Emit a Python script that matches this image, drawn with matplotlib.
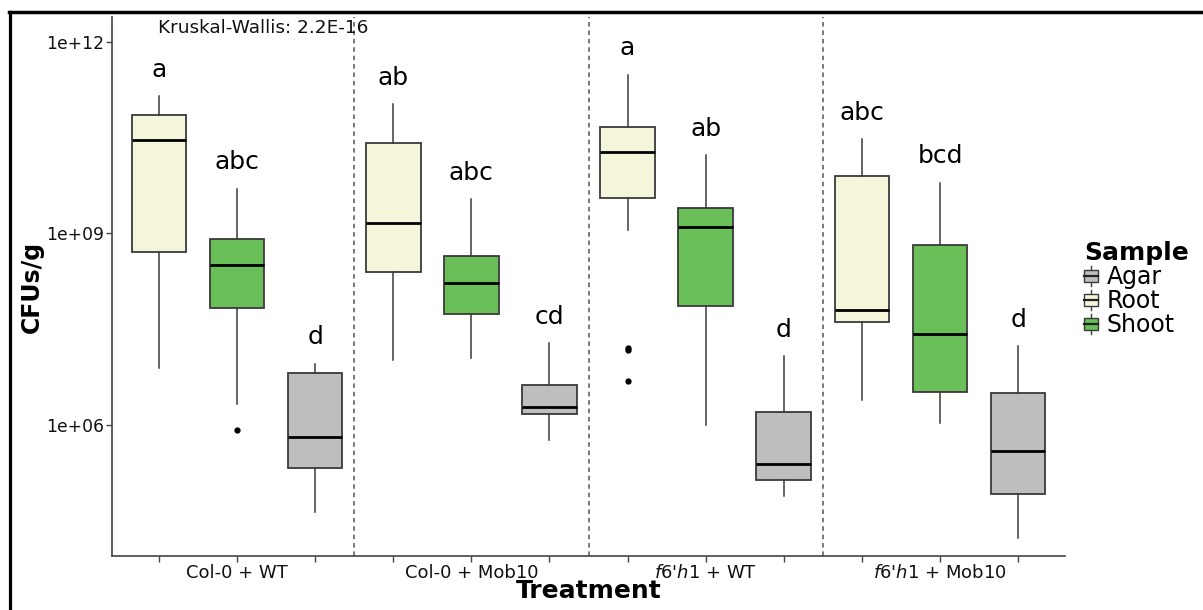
import matplotlib
matplotlib.use("Agg")
import matplotlib.pyplot as plt
from matplotlib.legend_handler import HandlerBase
from matplotlib.patches import Rectangle, Patch
from matplotlib.lines import Line2D
from matplotlib.ticker import NullLocator

plt.rcParams['font.family'] = ['DejaVu Sans']
plt.rcParams['mathtext.fontset'] = 'custom'
plt.rcParams['mathtext.it'] = 'DejaVu Sans:italic'
plt.rcParams['mathtext.rm'] = 'DejaVu Sans'

# ---------------- data ----------------
treatments = ["Col-0 + WT", "Col-0 + Mob10", "f6'h1 + WT", "f6'h1 + Mob10"]
box_order = ["Root", "Shoot", "Agar"]
legend_order = ["Agar", "Root", "Shoot"]

# five-number summaries per treatment: [whisker low, Q1, median, Q3, whisker high]
root_stats = [
    [7.7e6, 5.1e8, 2.9e10, 7.0e10, 1.4e11],
    [1.04e7, 2.5e8, 1.43e9, 2.6e10, 1.04e11],
    [1.1e9, 3.6e9, 1.87e10, 4.6e10, 3.05e11],
    [2.4e6, 4.0e7, 6.3e7, 7.8e9, 3.0e10],
]
shoot_stats = [
    [2.1e6, 6.6e7, 3.2e8, 8.1e8, 5.0e9],
    [1.1e7, 5.4e7, 1.66e8, 4.4e8, 3.4e9],
    [1.0e6, 7.2e7, 1.23e9, 2.5e9, 1.66e10],
    [1.04e6, 3.2e6, 2.6e7, 6.4e8, 6.2e9],
]
agar_stats = [
    [4.3e4, 2.1e5, 6.3e5, 6.4e6, 9.0e6],
    [5.7e5, 1.45e6, 1.9e6, 4.2e6, 1.9e7],
    [7.6e4, 1.35e5, 2.4e5, 1.56e6, 1.2e7],
    [1.64e4, 8.1e4, 3.9e5, 3.1e6, 1.7e7],
]
root_outliers = [[], [], [1.6e7, 1.45e7, 4.75e6], []]
shoot_outliers = [[8.1e5], [], [], []]
agar_outliers = [[], [], [], []]

root_letters = ["a", "ab", "a", "abc"]
shoot_letters = ["abc", "abc", "ab", "bcd"]
agar_letters = ["d", "cd", "d", "d"]

kw_label = "Kruskal-Wallis: 2.2E-16"
y_ticks = [1e6, 1e9, 1e12]
y_tick_labels = ["1e+06", "1e+09", "1e+12"]

colors = {"Agar": "#BEBEBE", "Root": "#F5F5DC", "Shoot": "#6ABF59"}
stats_by_sample = {"Root": root_stats, "Shoot": shoot_stats, "Agar": agar_stats}
outliers_by_sample = {"Root": root_outliers, "Shoot": shoot_outliers, "Agar": agar_outliers}
letters_by_sample = {"Root": root_letters, "Shoot": shoot_letters, "Agar": agar_letters}

# ---------------- figure ----------------
W, H = 1203, 610
fig = plt.figure(figsize=(W / 100, H / 100), dpi=100)
ax = fig.add_axes([112 / W, 1 - 556 / H, (1065 - 112) / W, (556 - 17) / H])

edge = "#3a3a3a"
letter_factor = 10 ** 0.30

n_s = len(box_order)
for i, tr in enumerate(treatments):
    for j, s in enumerate(box_order):
        pos = n_s * i + j + 1
        wl, q1, med, q3, wh = stats_by_sample[s][i]
        st = dict(whislo=wl, q1=q1, med=med, q3=q3, whishi=wh,
                  fliers=outliers_by_sample[s][i], label=s)
        ax.bxp([st], positions=[pos], widths=0.7, patch_artist=True,
               showcaps=False, showfliers=True,
               boxprops=dict(facecolor=colors[s], edgecolor=edge, linewidth=1.3),
               medianprops=dict(color="black", linewidth=2.0, solid_capstyle="butt"),
               whiskerprops=dict(color=edge, linewidth=1.1),
               flierprops=dict(marker="o", markersize=3.5, markerfacecolor="black",
                               markeredgecolor="black", linestyle="none"))
        ax.text(pos, wh * letter_factor, letters_by_sample[s][i], ha="center",
                va="baseline", fontsize=18, color="black")

for k in range(1, len(treatments)):
    ax.axvline(n_s * k + 0.5, color="#555555", linestyle=(0, (3, 2.5)), linewidth=1.1)

ax.set_yscale("log")
ax.set_ylim(10 ** 3.939, 10 ** 12.387)
ax.set_xlim(0.4, n_s * len(treatments) + 0.6)
ax.set_yticks(y_ticks)
ax.set_yticklabels(y_tick_labels)
ax.yaxis.set_minor_locator(NullLocator())

def fmt_label(t):
    return t.replace("f6'h1", "$\\mathit{f6}$'$\\mathit{h1}$")

xt = list(range(1, n_s * len(treatments) + 1))
xl = []
for p in xt:
    if (p - 2) % n_s == 0:
        xl.append(fmt_label(treatments[(p - 1) // n_s]))
    else:
        xl.append("")
ax.set_xticks(xt)
ax.set_xticklabels(xl)

for sp in ["top", "right"]:
    ax.spines[sp].set_visible(False)
for sp in ["left", "bottom"]:
    ax.spines[sp].set_color("#444444")
    ax.spines[sp].set_linewidth(1.2)
ax.tick_params(axis="both", length=4, width=1, color="#444444", labelcolor="#111111")
ax.tick_params(axis="y", labelsize=12.3, pad=2)
ax.tick_params(axis="x", labelsize=13, pad=2)

ax.text(2.34, 10 ** 12.21, kw_label, ha="center", va="center", fontsize=13.3, color="#111111")

ax.set_ylabel("CFUs/g", fontsize=17, fontweight="bold")
ax.yaxis.set_label_coords(-0.072, 0.5)
ax.set_xlabel("Treatment", fontsize=18, fontweight="bold")
ax.xaxis.set_label_coords(0.5, -0.043)


class BoxHandler(HandlerBase):
    def create_artists(self, legend, orig_handle, xdescent, ydescent, width, height,
                       fontsize, trans):
        fc = orig_handle.get_facecolor()
        x0, y0 = -xdescent, -ydescent
        bh = height * 0.62
        by = y0 + (height - bh) / 2
        cx = x0 + width / 2
        arts = [
            Line2D([cx, cx], [y0, y0 + height], color=edge, lw=1.0, transform=trans),
            Rectangle((x0, by), width, bh, facecolor=fc, edgecolor=edge, lw=1.0, transform=trans),
            Line2D([x0, x0 + width], [by + bh / 2] * 2, color="#222222", lw=1.6, transform=trans),
        ]
        return arts


handles = [Patch(facecolor=colors[s], edgecolor=edge) for s in legend_order]
leg = fig.legend(handles, legend_order, handler_map={Patch: BoxHandler()},
                 loc="center left", bbox_to_anchor=(1084 / W, 1 - 289 / H),
                 frameon=False, fontsize=17, title="Sample",
                 title_fontproperties=dict(weight="bold", size=18),
                 handlelength=0.6, handleheight=0.9, handletextpad=0.35,
                 labelspacing=0.0, borderpad=0, borderaxespad=0)
leg._legend_box.align = "left"

# outer frame lines (left and top) as in the reference image
fig.add_artist(Line2D([9.5 / W, 9.5 / W], [0, 1 - 12 / H], transform=fig.transFigure,
                      color="black", lw=2.3))
fig.add_artist(Line2D([8.5 / W, 1], [1 - 12 / H, 1 - 12 / H], transform=fig.transFigure,
                      color="black", lw=2.5))

fig.savefig("out.png", dpi=100)
